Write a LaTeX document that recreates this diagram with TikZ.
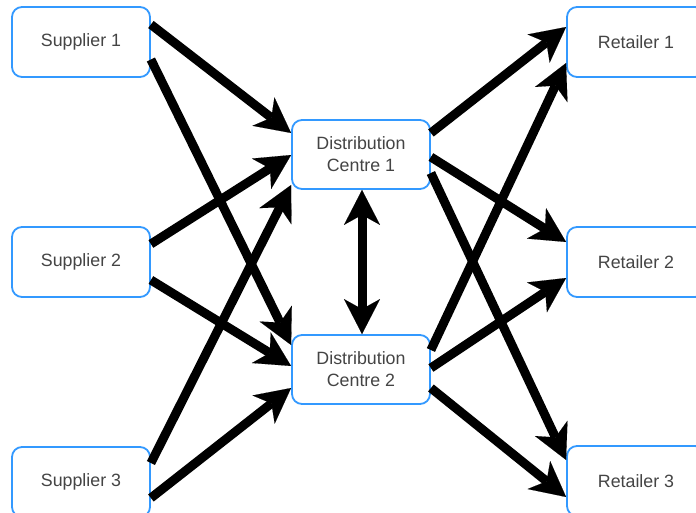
\documentclass[tikz,border=0pt]{standalone}
\usepackage{fontspec}
\setmainfont{Liberation Sans}
\usetikzlibrary{arrows.meta}
\definecolor{boxblue}{RGB}{51,153,255}
\definecolor{txtgray}{RGB}{68,68,68}
\tikzset{
  box/.style={draw=boxblue, line width=1.8pt, rounded corners=10pt, fill=white,
    minimum width=138pt, minimum height=70pt, inner sep=2pt, align=center,
    text=txtgray, font=\fontsize{17.8}{22}\selectfont},
  flow/.style={line width=9pt, -{Stealth[length=35pt,width=36pt,inset=10pt,line width=0.1pt]}},
  both/.style={line width=9pt, {Stealth[length=35pt,width=36pt,inset=10pt,line width=0.1pt]}-{Stealth[length=35pt,width=36pt,inset=10pt,line width=0.1pt]}}
}
\begin{document}
\begin{tikzpicture}[x=1pt,y=-1pt]
\useasboundingbox (0,0) rectangle (696,513);
\clip (0,0) rectangle (696,513);
\node[box] (s1) at (81,42) {Supplier 1};
\node[box] (s2) at (81,262) {Supplier 2};
\node[box] (s3) at (81,482) {Supplier 3};
\node[box, minimum height=69pt] (d1) at (361,154.5) {Distribution\\Centre 1};
\node[box, minimum height=69pt] (d2) at (361,369.5) {Distribution\\Centre 2};
\node[box] (r1) at (636,42) {Retailer 1};
\node[box] (r2) at (636,262) {Retailer 2};
\node[box] (r3) at (636,481) {Retailer 3};
% suppliers to centres
\draw[flow] ([yshift=17.5pt]s1.east) -- ([yshift=21.5pt]d1.west);
\draw[flow] ([yshift=-17.5pt]s1.east) -- ([yshift=24.5pt]d2.west);
\draw[flow] ([yshift=18pt]s2.east) -- ([yshift=-0.5pt]d1.west);
\draw[flow] ([yshift=-18pt]s2.east) -- ([yshift=3.5pt]d2.west);
\draw[flow] ([yshift=19pt]s3.east) -- ([yshift=-30.5pt]d1.west);
\draw[flow] ([yshift=-16pt]s3.east) -- ([yshift=-18.5pt]d2.west);
% centres to retailers
\draw[flow] ([yshift=21.5pt]d1.east) -- ([yshift=15pt]r1.west);
\draw[flow] ([yshift=-2.5pt]d1.east) -- ([yshift=20pt]r2.west);
\draw[flow] ([yshift=-18.5pt]d1.east) -- ([yshift=21pt]r3.west);
\draw[flow] ([yshift=19.5pt]d2.east) -- ([yshift=-21pt]r1.west);
\draw[flow] ([yshift=1.5pt]d2.east) -- ([yshift=-16pt]r2.west);
\draw[flow] ([yshift=-18.5pt]d2.east) -- ([yshift=-16pt]r3.west);
% between centres
\draw[both] ([xshift=1pt]d1.south) -- ([xshift=1pt]d2.north);
\end{tikzpicture}
\end{document}
